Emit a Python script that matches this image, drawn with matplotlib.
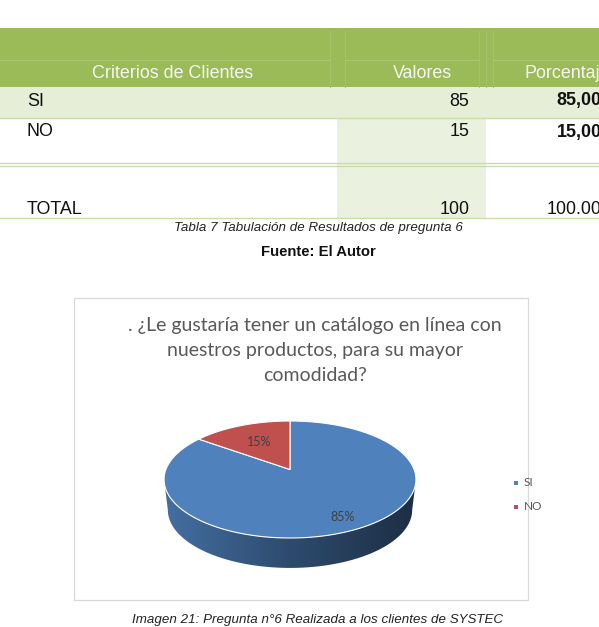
#!/usr/bin/env python
import numpy as np
import matplotlib.pyplot as plt
from matplotlib.patches import Rectangle, Polygon
from matplotlib.colors import to_rgb, LinearSegmentedColormap

# datos de la tabla / grafico
criterios = ["SI", "NO"]
valores = [85, 15]
porcentajes = ["85,00", "15,00"]
total_valor = "100"
total_pct = "100.00"
colores = ["#4f81bd", "#c0504d"]

titulo = (". ¿Le gustaría tener un catálogo en línea con\n"
          "nuestros productos, para su mayor\ncomodidad?")

fig = plt.figure(figsize=(5.99, 6.27), dpi=100)
ax = fig.add_axes([0, 0, 1, 1])
ax.set_xlim(0, 599)
ax.set_ylim(627, 0)
ax.axis("off")

FT = "Liberation Sans"
FC = "Lato"
VERDE = "#9bbb59"
VERDE_CLARO = "#e6eed8"
LINEA = "#cadcaa"
dy = 2  # ajuste vertical del texto de la tabla

# ---- tabla ----
ax.add_patch(Rectangle((0, 28), 599, 59, color=VERDE, lw=0))
for x0, x1 in [(0, 330), (345, 479), (493, 599)]:
    ax.plot([x0, x1], [60, 60], color="#a9c873", lw=0.7)
for x in [330, 345, 479, 486, 493]:
    ax.plot([x, x], [31, 87], color="#a5c36c", lw=0.7)
ax.text(173, 72 + dy, "Criterios de Clientes", ha="center", va="center",
        fontsize=12.9, family=FT, color="#f4f7ee")
ax.text(452.3, 72 + dy, "Valores", ha="right", va="center",
        fontsize=12.9, family=FT, color="#f4f7ee")
ax.text(524, 72 + dy, "Porcentaje", ha="left", va="center",
        fontsize=12.9, family=FT, color="#f4f7ee")

# columna de valores sombreada y fila SI
ax.add_patch(Rectangle((337, 87), 149, 131, color="#ebf1df", lw=0))
ax.add_patch(Rectangle((0, 87), 599, 31, color=VERDE_CLARO, lw=0))

filas_y = [99, 130]
for i, nombre in enumerate(criterios):
    y = filas_y[i] + dy
    ax.text(27, y, nombre, ha="left", va="center", fontsize=12.9, family=FT, color="#111111")
    ax.text(469.3, y, str(valores[i]), ha="right", va="center", fontsize=12.9, family=FT, color="#111111")
    ax.text(601.5, y, porcentajes[i], ha="right", va="center", fontsize=12.9, family=FT,
            weight="bold", color="#111111")
ax.text(27, 208 + dy, "TOTAL", ha="left", va="center", fontsize=12.9, family=FT, color="#111111")
ax.text(469.3, 208 + dy, total_valor, ha="right", va="center", fontsize=12.9, family=FT, color="#111111")
ax.text(601.5, 208 + dy, total_pct, ha="right", va="center", fontsize=12.9, family=FT, color="#111111")

for y in [118, 162.5, 165.5, 218]:
    ax.plot([0, 599], [y, y], color=LINEA, lw=1)

ax.text(318, 227.5, "Tabla 7 Tabulación de Resultados de pregunta 6", ha="center", va="center",
        fontsize=9.65, family=FT, style="italic", color="#222222")
ax.text(318, 251.5, "Fuente: El Autor", ha="center", va="center",
        fontsize=10.7, family=FT, weight="bold", color="#111111")

# ---- grafico ----
ax.add_patch(Rectangle((74, 298), 454, 302, facecolor="white", edgecolor="#d9d9d9", lw=0.9))
ax.text(314.7, 350.5, titulo, ha="center", va="center", fontsize=14, family=FC,
        color="#595959", linespacing=1.6)

cx, cy = 290, 469.5
A, B, k = 124.1, 56.8, 0.171
prof = 30.6


def proyectar(phi, r=1.0, base=False):
    u = r * np.sin(phi)
    v = r * np.cos(phi)
    d = 1 + k * v
    if base:
        return cx + 0.97 * A * u / d, cy + prof - 0.99 * B * v / d
    return cx + A * u / d, cy - B * v / d


fr = np.array(valores) / sum(valores)
bordes = np.concatenate([[0], np.cumsum(fr)]) * 2 * np.pi
phi_r = np.arccos(-k)
phi_l = 2 * np.pi - phi_r

# lateral visible con degradado
for i in range(len(valores)):
    s0 = max(bordes[i], phi_r)
    s1 = min(bordes[i + 1], phi_l)
    if s1 <= s0:
        continue
    t = np.linspace(s0, s1, 80)
    xs, ys = proyectar(t)
    xb, yb = proyectar(t[::-1], base=True)
    lado = Polygon(np.column_stack([np.r_[xs, xb], np.r_[ys, yb]]), closed=True,
                   facecolor="none", edgecolor="none")
    ax.add_patch(lado)
    c = np.array(to_rgb(colores[i]))
    cmap = LinearSegmentedColormap.from_list("lado", [c * 0.86, c * 0.58, c * 0.36])
    grad = np.linspace(0, 1, 256).reshape(1, -1)
    x_min, x_max = min(xs.min(), xb.min()), max(xs.max(), xb.max())
    im = ax.imshow(grad, cmap=cmap, extent=(x_min, x_max, max(yb.max(), ys.max()), ys.min()),
                   aspect="auto", zorder=2)
    im.set_clip_path(lado)

# cara superior
for i in range(len(valores)):
    t = np.linspace(bordes[i], bordes[i + 1], 120)
    xs, ys = proyectar(t)
    pts = np.column_stack([np.r_[cx, xs], np.r_[cy, ys]])
    ax.add_patch(Polygon(pts, closed=True, facecolor=colores[i], edgecolor="white",
                         lw=0.8, zorder=3))

label_r = [0.82, 0.6]
for i in range(len(valores)):
    mid = (bordes[i] + bordes[i + 1]) / 2
    lx, ly = proyectar(mid, r=label_r[i])
    ax.text(lx, ly, f"{valores[i]}%", ha="center", va="center", fontsize=9,
            family=FC, color="#404040", zorder=4)

for i, nombre in enumerate(criterios):
    ly = 482.7 + i * 24.3
    ax.add_patch(Rectangle((513.7, ly - 2), 4, 4, color=colores[i], lw=0))
    ax.text(523.5, ly, nombre, ha="left", va="center", fontsize=8.5, family=FC, color="#595959")

ax.set_xlim(0, 599)
ax.set_ylim(627, 0)

ax.text(318, 620.5, "Imagen 21: Pregunta n°6 Realizada a los clientes de SYSTEC", ha="center",
        va="center", fontsize=9.65, family=FT, style="italic", color="#222222")

fig.savefig("out.png", dpi=100)
